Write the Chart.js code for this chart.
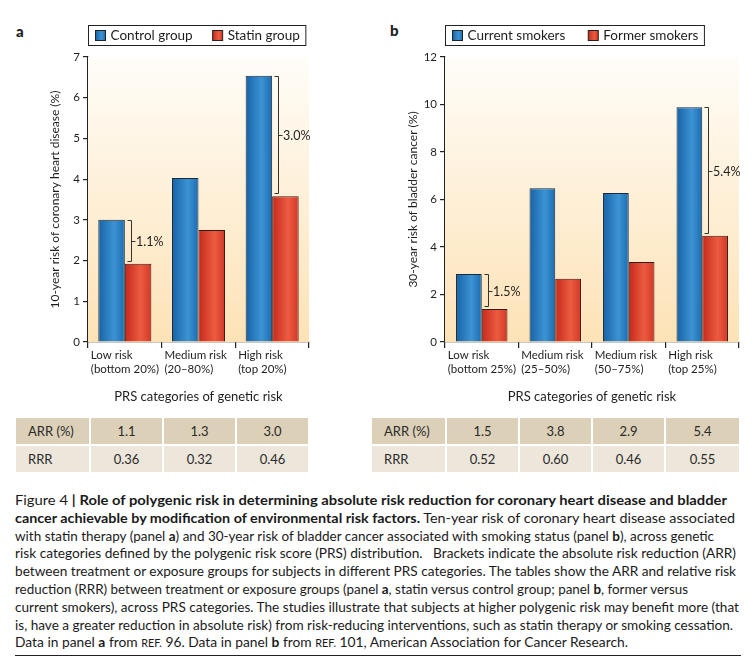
<!DOCTYPE html>
<html><head><meta charset="utf-8">
<script src="https://cdn.jsdelivr.net/npm/chart.js@4.4.1/dist/chart.umd.min.js"></script>
<style>
html,body{margin:0;padding:0;background:#fff;}
body{width:756px;height:664px;position:relative;overflow:hidden;font-family:Lato,'Open Sans',sans-serif;color:#1e1e1e;}
.pan{position:absolute;top:0;width:378px;height:410px;}
.lab{position:absolute;font-weight:900;font-size:15px;line-height:18px;}
table.t{position:absolute;border-collapse:collapse;table-layout:fixed;font-size:13px;color:#2a2a2a;}
table.t td{padding:0;text-align:center;border:1px solid #fff;border-width:0 2px 2px 0;}
table.t td:first-child{text-align:left;padding-left:12px;}
table.t tr.r1 td{background:#ddd0b8;height:26px;}
table.t tr.r2 td{background:#ede6da;height:26px;}
#cap{position:absolute;left:15px;top:491px;font-size:14px;line-height:17.8px;color:#1a1a1a;}
#cap .ln{height:17.8px;white-space:nowrap;}
#cap .cl{display:inline-block;white-space:nowrap;transform-origin:0 50%;}
#cap .sc{font-size:11px;}
#rule{position:absolute;left:15px;top:655px;width:726px;height:0;border-top:1.5px solid #222;}
</style>
</head><body>
<div class="lab" style="left:16px;top:22px;">a</div>
<div class="lab" style="left:390px;top:21px;">b</div>
<div class="pan" style="left:0"><canvas id="ca" width="378" height="410"></canvas></div>
<div class="pan" style="left:378px"><canvas id="cb" width="378" height="410"></canvas></div>
<table class="t" id="ta" style="left:16px;top:418px;"></table>
<table class="t" id="tb" style="left:372px;top:418px;"></table>
<div id="cap">
<div class="ln"><span class="cl">Figure 4 <b>|</b> <b>Role of polygenic risk in determining absolute risk reduction for coronary heart disease and bladder</b></span></div>
<div class="ln"><span class="cl"><b>cancer achievable by modification of environmental risk factors.</b> Ten-year risk of coronary heart disease associated</span></div>
<div class="ln"><span class="cl">with statin therapy (panel <b>a</b>) and 30-year risk of bladder cancer associated with smoking status (panel <b>b</b>), across genetic</span></div>
<div class="ln"><span class="cl">risk categories defined by the polygenic risk score (PRS) distribution.&nbsp;&nbsp; Brackets indicate the absolute risk reduction (ARR)</span></div>
<div class="ln"><span class="cl">between treatment or exposure groups for subjects in different PRS categories. The tables show the ARR and relative risk</span></div>
<div class="ln"><span class="cl">reduction (RRR) between treatment or exposure groups (panel <b>a</b>, statin versus control group; panel <b>b</b>, former versus</span></div>
<div class="ln"><span class="cl">current smokers), across PRS categories. The studies illustrate that subjects at higher polygenic risk may benefit more (that</span></div>
<div class="ln"><span class="cl">is, have a greater reduction in absolute risk) from risk-reducing interventions, such as statin therapy or smoking cessation.</span></div>
<div class="ln"><span class="cl">Data in panel <b>a</b> from <span class="sc">REF.</span> 96. Data in panel <b>b</b> from <span class="sc">REF.</span> 101, American Association for Cancer Research.</span></div>
</div>
<div id="rule"></div>
<script>
// ---------- data ----------
const categoriesA = [["Low risk","(bottom 20%)"],["Medium risk","(20\u201380%)"],["High risk","(top 20%)"]];
const controlGroup = [3.0, 4.03, 6.54];
const statinGroup = [1.92, 2.75, 3.58];
const seriesNamesA = ["Control group","Statin group"];
const yTicksA = [0,1,2,3,4,5,6,7];
const arrA = ["1.1","1.3","3.0"];
const rrrA = ["0.36","0.32","0.46"];
const bracketsA = [0, 2];

const categoriesB = [["Low risk","(bottom 25%)"],["Medium risk","(25\u201350%)"],["Medium risk","(50\u201375%)"],["High risk","(top 25%)"]];
const currentSmokers = [2.86, 6.47, 6.27, 9.88];
const formerSmokers = [1.39, 2.66, 3.37, 4.47];
const seriesNamesB = ["Current smokers","Former smokers"];
const yTicksB = [0,2,4,6,8,10,12];
const arrB = ["1.5","3.8","2.9","5.4"];
const rrrB = ["0.52","0.60","0.46","0.55"];
const bracketsB = [0, 3];

// ---------- tables ----------
function buildTable(id, arr, rrr, widths){
  const t = document.getElementById(id);
  let cg = '<colgroup>' + widths.map(w=>`<col style="width:${w}px">`).join('') + '</colgroup>';
  let r1 = '<tr class="r1"><td>ARR (%)</td>' + arr.map(v=>`<td>${v}</td>`).join('') + '</tr>';
  let r2 = '<tr class="r2"><td>RRR</td>' + rrr.map(v=>`<td>${v}</td>`).join('') + '</tr>';
  t.innerHTML = cg + r1 + r2;
  t.style.width = widths.reduce((a,b)=>a+b,0) + 'px';
}
buildTable('ta', arrA, rrrA, [74,73,73,73]);
buildTable('tb', arrB, rrrB, [74,73,73,73,75]);

// ---------- caption fit ----------
const capTargets = [712,720,699,721,721,673,724,718,613];
document.querySelectorAll('#cap .cl').forEach((el,i)=>{
  const w = el.getBoundingClientRect().width;
  el.style.transform = `scaleX(${capTargets[i]/w})`;
});

// ---------- charts ----------
Chart.defaults.font.family = "Lato, 'Open Sans', sans-serif";
Chart.defaults.color = '#1e1e1e';

const BLUE = ['#1763a8','#3c93d4','#1b6cb2'];
const RED  = ['#c6291d','#ec5b40','#d23728'];

function gradFill(stops, dsIdx, catPct){
  return (c)=>{
    const ch = c.chart, xs = ch.scales.x;
    if (!xs || c.dataIndex === undefined || !isFinite(xs.getPixelForValue(0))) return stops[1];
    const cw = (xs.right - xs.left) / ch.data.labels.length;
    const w = cw * catPct / 2;
    const cx = xs.getPixelForValue(c.dataIndex);
    const l = dsIdx === 0 ? cx - w : cx;
    const g = ch.ctx.createLinearGradient(l, 0, l + w, 0);
    g.addColorStop(0, stops[0]); g.addColorStop(0.6, stops[1]); g.addColorStop(1, stops[2]);
    return g;
  };
}

const bgPlugin = {
  id:'bgGrad',
  beforeDatasetsDraw(chart){
    const {ctx, chartArea:a} = chart;
    const g = ctx.createLinearGradient(0, a.top, 0, a.bottom);
    g.addColorStop(0, '#fffdf8'); g.addColorStop(1, '#fde2b6');
    ctx.save(); ctx.fillStyle = g; ctx.fillRect(a.left, a.top, a.right - a.left, a.bottom - a.top); ctx.restore();
  }
};

function makeChart(id, cats, s1, s2, names, yTicks, yTitle, padL, yW, padR, catPct, brackets, arr, legendLeft, legendGap){
  const ctx = document.getElementById(id).getContext('2d');
  const legendPlugin = {
    id:'boxLegend',
    afterDraw(chart){
      const c = chart.ctx;
      c.save();
      c.font = "13.5px Lato, 'Open Sans', sans-serif";
      const w1 = c.measureText(names[0]).width, w2 = c.measureText(names[1]).width;
      const top = 25.5, h = 20;
      const x0 = legendLeft + 0.5;
      const sq1 = x0 + 7, t1 = sq1 + 15, sq2 = t1 + w1 + legendGap, t2 = sq2 + 15;
      const right = t2 + w2 + 6;
      c.strokeStyle = '#222'; c.lineWidth = 1;
      c.strokeRect(x0, top, right - x0, h);
      const drawSq = (x, stops)=>{
        const g = c.createLinearGradient(x, 0, x + 10, 0);
        g.addColorStop(0, stops[0]); g.addColorStop(0.6, stops[1]); g.addColorStop(1, stops[2]);
        c.fillStyle = g; c.fillRect(x, top + 5, 10, 10); c.strokeRect(x, top + 5, 10, 10);
      };
      drawSq(sq1, BLUE); drawSq(sq2, RED);
      c.fillStyle = '#1e1e1e'; c.textBaseline = 'middle'; c.textAlign = 'left';
      c.fillText(names[0], t1, top + h/2 + 0.5);
      c.fillText(names[1], t2, top + h/2 + 0.5);
      c.restore();
    }
  };
  const bracketPlugin = {
    id:'brackets',
    afterDatasetsDraw(chart){
      const c = chart.ctx;
      const m0 = chart.getDatasetMeta(0), m1 = chart.getDatasetMeta(1);
      c.save();
      c.strokeStyle = '#333'; c.lineWidth = 1;
      c.font = "12.5px Lato, 'Open Sans', sans-serif";
      c.fillStyle = '#1e1e1e'; c.textBaseline = 'middle'; c.textAlign = 'left';
      brackets.forEach(i=>{
        const b1 = m1.data[i];
        const x = Math.round(b1.x - b1.width/2 + 6) + 0.5;
        const yT = Math.round(m0.data[i].y) + 0.5;
        const yB = Math.round(b1.y - 3) + 0.5;
        const ym = Math.round((yT + yB)/2) + 0.5;
        c.beginPath();
        c.moveTo(x - 4, yT); c.lineTo(x, yT); c.lineTo(x, yB); c.lineTo(x - 4, yB);
        c.moveTo(x, ym); c.lineTo(x + 4, ym);
        c.stroke();
        c.fillText(arr[i] + '%', x + 4.5, ym + 0.5);
      });
      c.restore();
    }
  };
  return new Chart(ctx, {
    type:'bar',
    data:{
      labels: cats,
      datasets:[
        {label:names[0], data:s1, backgroundColor:gradFill(BLUE,0,catPct), borderColor:'#1f2a38', borderWidth:1, categoryPercentage:catPct, barPercentage:1},
        {label:names[1], data:s2, backgroundColor:gradFill(RED,1,catPct), borderColor:'#3a1a14', borderWidth:1, categoryPercentage:catPct, barPercentage:1}
      ]
    },
    options:{
      responsive:false, animation:false, devicePixelRatio: window.devicePixelRatio || 1,
      layout:{padding:{left:padL, right:padR, top:57, bottom:0}},
      plugins:{legend:{display:false}, tooltip:{enabled:false}, title:{display:false}},
      scales:{
        x:{
          offset:true,
          grid:{offset:true, drawOnChartArea:false, drawTicks:true, tickLength:6, color:'#222', lineWidth:1.2},
          border:{display:true, color:'#222', width:1.3},
          ticks:{align:'start', labelOffset:-34, padding:1, maxRotation:0, autoSkip:false, color:'#1e1e1e',
                 font:{size:11.5, lineHeight:1.15}},
          title:{display:true, text:'PRS categories of genetic risk', font:{size:13}, padding:{top:0,bottom:5}, color:'#1e1e1e'},
          afterFit(s){ s.height = 68; s.paddingLeft = 0; s.paddingRight = 0; }
        },
        y:{
          min:yTicks[0], max:yTicks[yTicks.length-1],
          afterBuildTicks(s){ s.ticks = yTicks.map(v=>({value:v})); },
          grid:{drawOnChartArea:false, drawTicks:true, tickLength:5, color:'#222', lineWidth:1.2},
          border:{display:true, color:'#222', width:1.3},
          ticks:{padding:3, font:{size:11.5}, color:'#1e1e1e'},
          title:{display:true, text:yTitle, font:{size:12}, padding:{top:8,bottom:0}, color:'#1e1e1e'},
          afterFit(s){ s.width = yW; s.paddingTop = 0; s.paddingBottom = 0; }
        }
      }
    },
    plugins:[bgPlugin, bracketPlugin, legendPlugin]
  });
}

makeChart('ca', categoriesA, controlGroup, statinGroup, seriesNamesA, yTicksA,
  '10-year risk of coronary heart disease (%)', 40, 48, 69, 0.72, bracketsA, arrA, 88, 20);
makeChart('cb', categoriesB, currentSmokers, formerSmokers, seriesNamesB, yTicksB,
  '30-year risk of bladder cancer (%)', 20, 47, 17, 0.70, bracketsB, arrB, 67, 23);
</script>
</body></html>
